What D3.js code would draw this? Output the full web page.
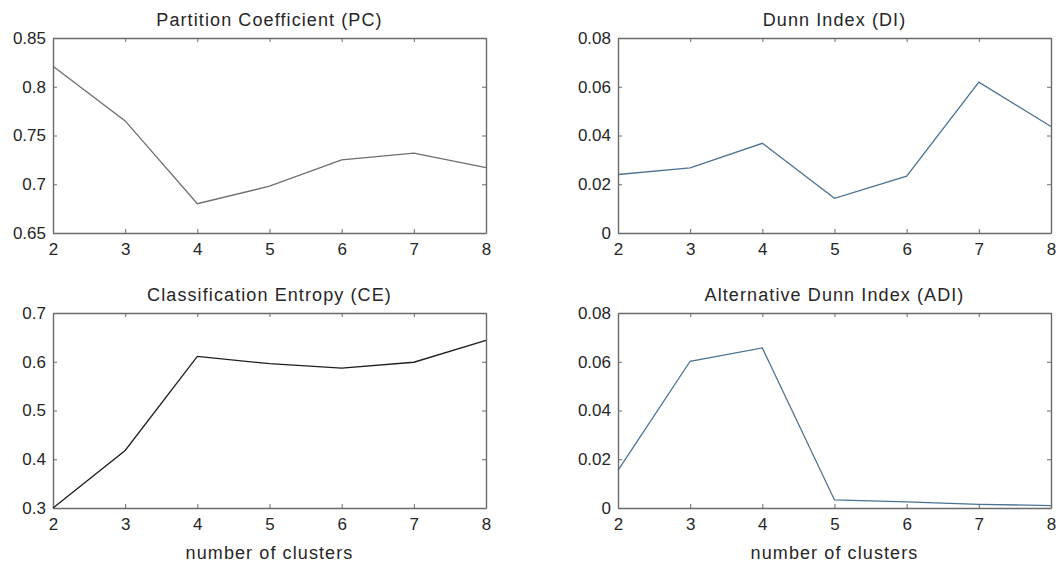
<!DOCTYPE html>
<html>
<head>
<meta charset="utf-8">
<script src="https://cdn.jsdelivr.net/npm/d3@7"></script>
<style>
  body { margin: 0; background: #fff; }
  svg { display: block; }
</style>
</head>
<body>
<div id="chart"></div>
<script>
const clusters = [2, 3, 4, 5, 6, 7, 8];

const pcValues = [0.821, 0.765, 0.680, 0.698, 0.725, 0.732, 0.717];
const diValues = [0.0240, 0.0267, 0.0368, 0.0142, 0.0233, 0.0619, 0.0437];
const ceValues = [0.300, 0.418, 0.611, 0.596, 0.587, 0.599, 0.644];
const adiValues = [0.0154, 0.0602, 0.0657, 0.0033, 0.0025, 0.0015, 0.0010];

const pcTicks = [0.65, 0.7, 0.75, 0.8, 0.85];
const diTicks = [0, 0.02, 0.04, 0.06, 0.08];
const ceTicks = [0.3, 0.4, 0.5, 0.6, 0.7];
const adiTicks = [0, 0.02, 0.04, 0.06, 0.08];

const panels = [
  { title: 'Partition Coefficient (PC)', values: pcValues, ticks: pcTicks, color: '#6e6e6e',
    left: 53, top: 38, xlabel: '' },
  { title: 'Dunn Index (DI)', values: diValues, ticks: diTicks, color: '#4c7393',
    left: 618, top: 38, xlabel: '' },
  { title: 'Classification Entropy (CE)', values: ceValues, ticks: ceTicks, color: '#1e1e1e',
    left: 53, top: 313, xlabel: 'number of clusters' },
  { title: 'Alternative Dunn Index (ADI)', values: adiValues, ticks: adiTicks, color: '#4c7393',
    left: 618, top: 313, xlabel: 'number of clusters' }
];

const width = 1060, height = 566;
const plotW = 433, plotH = 195;
const axisColor = '#6a6a6a';
const textColor = '#262626';
const font = 'Liberation Sans, Arial, sans-serif';

const svg = d3.select('#chart').append('svg')
  .attr('width', width)
  .attr('height', height)
  .style('font-family', font);

panels.forEach(p => {
  const g = svg.append('g').attr('transform', `translate(${p.left},${p.top})`);

  const x = d3.scaleLinear().domain([2, 8]).range([0, plotW]);
  const y = d3.scaleLinear().domain([p.ticks[0], p.ticks[p.ticks.length - 1]]).range([plotH, 0]);

  const fmt = d => String(+d.toFixed(2));

  // bottom & left axes with labels, ticks pointing inward
  const xAxis = g.append('g').attr('transform', `translate(0,${plotH})`)
    .call(d3.axisBottom(x).tickValues(clusters).tickSizeInner(-4).tickSizeOuter(0).tickPadding(12).tickFormat(d3.format('d')));
  const yAxis = g.append('g')
    .call(d3.axisLeft(y).tickValues(p.ticks).tickSizeInner(-4).tickSizeOuter(0).tickPadding(7).tickFormat(fmt));

  // top & right axes, ticks only
  const xTop = g.append('g')
    .call(d3.axisTop(x).tickValues(clusters).tickSizeInner(-4).tickSizeOuter(0).tickFormat(''));
  const yRight = g.append('g').attr('transform', `translate(${plotW},0)`)
    .call(d3.axisRight(y).tickValues(p.ticks).tickSizeInner(-4).tickSizeOuter(0).tickFormat(''));

  [xAxis, yAxis, xTop, yRight].forEach(a => {
    a.select('.domain').attr('stroke', axisColor).attr('stroke-width', 1.4);
    a.selectAll('.tick line').attr('stroke', axisColor);
    a.selectAll('.tick text').attr('fill', textColor).style('font-size', '17px').style('font-family', font);
  });
  xAxis.selectAll('.tick text').attr('dy', '0.6em');

  const line = d3.line()
    .x((d, i) => x(clusters[i]))
    .y(d => y(d));

  g.append('path')
    .datum(p.values)
    .attr('fill', 'none')
    .attr('stroke', p.color)
    .attr('stroke-width', 1.3)
    .attr('d', line);

  g.append('text')
    .attr('x', plotW / 2)
    .attr('y', -12)
    .attr('text-anchor', 'middle')
    .attr('fill', textColor)
    .style('font-size', '18px')
    .style('letter-spacing', '1.1px')
    .text(p.title);

  if (p.xlabel) {
    g.append('text')
      .attr('x', plotW / 2)
      .attr('y', plotH + 51)
      .attr('text-anchor', 'middle')
      .attr('fill', textColor)
      .style('font-size', '18px')
      .style('letter-spacing', '1.1px')
      .text(p.xlabel);
  }
});
</script>
</body>
</html>
